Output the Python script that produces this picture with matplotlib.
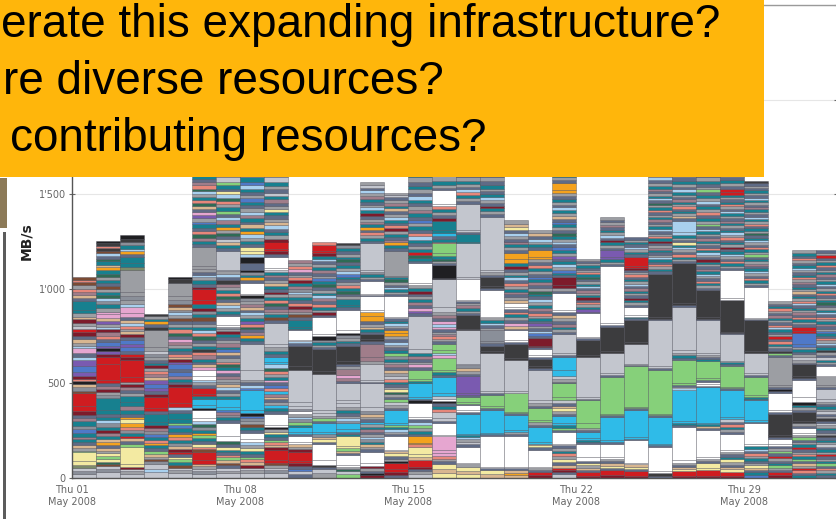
import matplotlib
matplotlib.use("Agg")
import matplotlib.pyplot as plt
from matplotlib.patches import Rectangle
from matplotlib.ticker import FuncFormatter

# transfer links -> colour
link_colors = {
    'lg': '#c3c6ce', 'g': '#9c9ea3', 'sl': '#5f6b86', 'dg': '#3c3c3e', 'k': '#1f1f22',
    'w': '#ffffff', 'r': '#cf1c20', 'dr': '#7d1b2b', 'c': '#2fbbe8', 't': '#17808f',
    'gr': '#86d07a', 'dgr': '#2e6b55', 'y': '#f3eaa2', 'o': '#f4a21e', 'p': '#7a5ab0',
    'pk': '#e6a6d0', 'b': '#4f79c8', 'br': '#7b4b34', 'sa': '#e6877a', 'mv': '#a07d8a',
    'lb': '#a9d0ee', 'tn': '#d8b690', 'ol': '#7c8a6a', 'sg': '#8a8f99',
}

# daily stacks, bottom to top: (link, cumulative MB/s at top of the segment)
may01 = [('lg',22),('sg',38),('lg',55),('ol',68),('y',88),('y',135),('gr',145),('g',160),('tn',172),('sl',190),('t',205),('mv',218),('t',240),('b',258),('sg',275),('t',300),('mv',318),('sl',335),('dr',352),('r',380),('r',448),('br',462),('sg',480),('tn',495),('k',512),('sa',525),('dr',538),('p',560),('b',590),('p',625),('lb',640),('sl',660),('pk',685),('lb',700),('g',715),('tn',735),('sl',752),('dr',770),('r',785),('lg',805),('g',820),('dr',838),('tn',852),('g',870),('t',890),('t',935),('sl',950),('tn',968),('mv',985),('sa',1000),('g',1018),('br',1035),('sa',1048),('br',1063)]
may02 = [('lg',30),('sg',45),('lg',62),('br',72),('dgr',85),('y',100),('gr',118),('y',130),('g',145),('tn',160),('sl',175),('o',190),('tn',205),('t',222),('mv',240),('dr',255),('t',272),('sg',290),('lb',305),('t',325),('sl',340),('t',360),('t',425),('sg',440),('g',455),('dr',470),('mv',485),('sl',500),('r',520),('r',600),('r',640),('dr',655),('p',672),('k',685),('p',700),('b',718),('sl',735),('sa',750),('mv',770),('dr',785),('lb',800),('g',815),('p',832),('tn',848),('pk',868),('pk',880),('g',900),('t',918),('sg',935),('lb',950),('dgr',968),('t',985),('g',1000),('br',1015),('sl',1030),('t',1048),('g',1062),('dgr',1080),('t',1100),('o',1115),('tn',1128),('t',1145),('dgr',1160),('sl',1175),('lb',1188),('br',1200),('dg',1215),('sa',1228),('dg',1240),('k',1254)]
may03 = [('lg',20),('g',35),('lg',50),('dr',60),('y',75),('y',165),('gr',178),('sl',195),('tn',210),('r',222),('t',240),('sg',255),('sa',270),('o',290),('y',310),('o',325),('sl',340),('t',360),('mv',378),('t',400),('t',432),('g',450),('sl',465),('mv',480),('dr',495),('g',510),('r',535),('r',625),('dr',640),('r',655),('sl',670),('b',690),('p',710),('b',730),('sl',745),('dr',760),('tn',775),('g',790),('sa',805),('lb',820),('tn',835),('sl',850),('pk',870),('pk',905),('lb',920),('g',940),('sg',960),('g',985),('g',1100),('ol',1115),('t',1135),('t',1170),('sl',1185),('o',1198),('lb',1212),('t',1230),('sg',1245),('dg',1262),('k',1282)]
may04 = [('lg',30),('lb',50),('lg',75),('sg',88),('br',98),('g',112),('tn',128),('gr',142),('sl',158),('t',172),('o',185),('sa',200),('t',218),('b',235),('sg',250),('mv',265),('dr',280),('t',295),('t',340),('sl',355),('r',370),('r',430),('dr',445),('sl',460),('p',475),('b',495),('p',520),('tn',535),('mv',550),('sa',565),('g',580),('dr',595),('t',610),('sl',625),('g',640),('sg',655),('lg',670),('g',690),('g',780),('dg',800),('sl',815),('o',828),('t',842),('g',855),('dg',868)]
may05 = [('lg',25),('g',40),('lg',55),('br',68),('t',82),('gr',98),('y',110),('sl',125),('r',140),('dr',155),('tn',170),('sg',185),('t',200),('sa',215),('o',230),('sl',245),('t',262),('b',278),('gr',292),('t',310),('t',345),('sl',360),('lb',375),('r',395),('r',480),('dr',495),('sl',510),('t',525),('mv',540),('b',560),('sl',575),('b',600),('p',615),('dr',628),('tn',642),('sa',655),('sl',670),('t',688),('g',705),('mv',720),('pk',735),('sl',752),('dgr',768),('sa',785),('t',800),('g',815),('sl',830),('br',845),('g',860),('lb',875),('sg',890),('tn',905),('br',920),('sg',940),('g',960),('g',1030),('dg',1050),('k',1063)]
may06 = [('lg',20),('sg',35),('lg',50),('g',62),('tn',75),('r',95),('r',140),('br',152),('sa',165),('y',180),('sl',195),('t',210),('gr',225),('o',238),('t',255),('sg',270),('dgr',285),('lb',300),('w',315),('w',360),('k',370),('c',385),('c',420),('t',432),('r',445),('r',475),('sl',490),('g',505),('lb',520),('w',540),('w',570),('pk',585),('tn',600),('sl',615),('t',630),('mv',648),('sa',665),('dg',680),('t',698),('g',715),('sl',730),('dgr',748),('sa',765),('lb',780),('t',798),('g',815),('sl',832),('br',850),('t',868),('sg',885),('dr',900),('t',918),('r',940),('r',1000),('dr',1012),('sl',1028),('t',1045),('g',1060),('lb',1075),('sl',1090),('g',1105),('g',1120),('g',1220),('sl',1235),('t',1252),('mv',1270),('dgr',1288),('sa',1305),('sl',1320),('t',1340),('b',1355),('g',1372),('p',1390),('pk',1405),('sl',1420),('tn',1435),('dgr',1452),('sa',1468),('t',1485),('g',1500),('lb',1515),('dgr',1530),('sa',1548),('mv',1565),('sl',1580),('t',1600),('g',1650),('dg',1700),('sl',1760),('g',1800),('t',1850),('mv',1900)]
may07 = [('lg',25),('g',38),('lg',55),('sl',68),('br',80),('tn',95),('gr',110),('sa',122),('sl',138),('t',150),('y',165),('sl',180),('dgr',195),('w',220),('w',290),('sl',305),('t',320),('sg',335),('mv',350),('b',362),('c',375),('c',420),('t',435),('g',450),('sl',465),('lb',480),('tn',495),('sg',510),('g',525),('mv',540),('sl',555),('pk',570),('t',585),('dgr',600),('sa',615),('g',632),('sl',648),('tn',665),('b',680),('t',695),('mv',712),('g',728),('sl',745),('t',760),('dr',775),('g',790),('sg',800),('w',810),('w',855),('sl',868),('t',882),('g',898),('lb',912),('tn',928),('sl',945),('dgr',960),('sa',978),('t',995),('g',1012),('mv',1028),('dg',1045),('sl',1062),('lb',1078),('g',1092),('lg',1100),('lg',1200),('sl',1215),('t',1230),('tn',1245),('lg',1262),('sl',1278),('dgr',1295),('g',1312),('o',1328),('t',1345),('mv',1362),('lb',1380),('sl',1395),('gr',1412),('t',1430),('g',1448),('sa',1465),('dgr',1482),('lb',1500),('y',1515),('sl',1530),('t',1548),('gr',1565),('lg',1590),('g',1700),('sl',1800),('t',1950)]
may08 = [('lg',25),('g',40),('lg',55),('dr',68),('tn',82),('sa',98),('gr',112),('sl',128),('t',142),('y',158),('g',172),('lb',188),('w',205),('w',240),('sl',255),('t',270),('br',285),('g',300),('sg',315),('b',330),('k',345),('c',360),('c',465),('b',478),('lb',492),('sl',505),('g',520),('lg',570),('lg',710),('sl',725),('t',740),('o',755),('mv',770),('sl',785),('dgr',800),('sa',815),('p',830),('t',845),('g',860),('lb',875),('sl',890),('tn',905),('mv',920),('g',935),('sg',950),('k',965),('w',975),('w',1030),('sl',1045),('o',1060),('t',1075),('sg',1090),('k',1100),('sl',1135),('k',1170),('lb',1185),('y',1200),('y',1220),('sl',1235),('t',1252),('g',1270),('lb',1288),('o',1305),('t',1322),('tn',1340),('sl',1355),('t',1372),('mv',1390),('lb',1408),('g',1425),('sl',1442),('t',1460),('b',1478),('g',1495),('sl',1512),('t',1530),('lb',1548),('b',1565),('t',1590),('g',1700),('sl',1850),('t',1980)]
may09 = [('lg',25),('sg',40),('lg',55),('g',68),('br',80),('r',95),('r',150),('dr',162),('tn',175),('sa',188),('gr',200),('sl',215),('t',230),('y',245),('g',258),('k',270),('w',280),('w',340),('sl',355),('t',370),('c',385),('g',400),('sl',415),('tn',430),('mv',445),('c',460),('sa',475),('b',490),('sl',505),('pk',520),('t',535),('g',550),('sa',565),('dgr',580),('lb',600),('c',615),('c',640),('sl',655),('t',670),('g',690),('lg',710),('lg',820),('sl',835),('br',850),('t',865),('g',880),('mv',895),('sl',910),('dgr',925),('sa',940),('t',955),('g',970),('dr',985),('sl',1000),('t',1015),('tn',1030),('g',1045),('sl',1060),('mv',1075),('t',1090),('lg',1100),('w',1110),('w',1170),('sl',1185),('dr',1200),('r',1210),('r',1250),('dr',1265),('g',1282),('t',1300),('sl',1318),('lb',1335),('tn',1352),('g',1370),('sl',1388),('t',1405),('y',1420),('g',1438),('sl',1455),('mv',1472),('t',1490),('lg',1508),('sl',1525),('g',1545),('t',1565),('lg',1590),('g',1700),('sl',1850),('g',2000)]
may10 = [('sl',20),('lg',35),('b',50),('sl',65),('dr',80),('r',92),('r',140),('dr',152),('g',165),('tn',178),('w',190),('w',220),('sl',232),('c',245),('c',270),('t',282),('gr',295),('sg',310),('lb',325),('g',340),('w',352),('sg',365),('lg',380),('lg',400),('lg',570),('dg',590),('dg',700),('sl',712),('lb',722),('w',730),('w',780),('sl',790),('t',800),('t',835),('sl',850),('br',865),('g',880),('mv',895),('dr',910),('sa',925),('sl',940),('t',955),('g',970),('lb',985),('sg',1000),('mv',1015),('t',1030),('dr',1045),('sa',1060),('g',1075),('sl',1090),('pk',1105),('sa',1120),('g',1135),('mv',1150)]
may11 = [('g',25),('lg',45),('sl',58),('dg',70),('w',95),('w',180),('sl',192),('y',205),('tn',218),('sg',232),('c',245),('c',290),('sl',302),('gr',315),('g',330),('lg',345),('lg',360),('lg',550),('dg',565),('dg',680),('sl',692),('g',705),('t',718),('sg',732),('k',748),('w',760),('w',850),('sl',862),('dr',875),('g',890),('t',905),('sa',920),('sl',935),('mv',950),('lb',965),('t',980),('g',995),('sl',1010),('dgr',1025),('t',1040),('b',1055),('g',1070),('sl',1085),('mv',1100),('t',1115),('g',1130),('sl',1145),('lb',1160),('t',1175),('dr',1190),('r',1200),('r',1230),('sa',1245)]
may12 = [('gr',20),('lg',38),('dgr',50),('g',60),('w',70),('w',120),('sl',132),('tn',145),('gr',158),('y',170),('y',220),('t',232),('sl',245),('c',258),('c',290),('sg',302),('lb',315),('g',330),('sl',345),('t',360),('g',375),('lg',395),('lg',410),('lg',500),('sl',515),('mv',530),('pk',545),('mv',575),('g',590),('sl',605),('dg',620),('dg',700),('sl',712),('t',725),('g',740),('sg',755),('k',768),('w',780),('w',890),('sl',902),('t',915),('t',945),('g',960),('sl',975),('dgr',990),('t',1005),('sa',1020),('g',1035),('sl',1050),('t',1065),('b',1080),('lb',1095),('g',1110),('t',1125),('sl',1140),('dgr',1155),('t',1170),('g',1185),('sl',1200),('t',1215),('sg',1230),('dg',1243)]
may13 = [('dr',15),('k',25),('sl',38),('g',52),('dr',62),('w',80),('w',140),('sl',152),('g',165),('tn',178),('t',190),('sg',205),('lb',218),('g',232),('sl',245),('mv',258),('t',270),('g',285),('c',298),('sl',312),('g',325),('tn',340),('sg',355),('lg',375),('lg',500),('sl',510),('lg',520),('lg',605),('g',620),('mv',640),('mv',710),('sl',722),('dg',735),('dg',760),('sl',772),('t',785),('tn',800),('g',815),('sl',830),('o',855),('o',880),('w',890),('w',960),('sl',968),('w',975),('w',1040),('sl',1052),('g',1065),('t',1078),('sg',1090),('lg',1100),('lg',1240),('sl',1252),('t',1268),('g',1282),('sa',1298),('sl',1312),('o',1325),('t',1340),('mv',1355),('g',1370),('sl',1385),('dr',1400),('t',1415),('lb',1430),('g',1445),('sl',1460),('t',1475),('mv',1490),('g',1505),('lb',1520),('sl',1535),('lg',1550),('g',1562)]
may14 = [('sl',15),('dr',30),('r',45),('r',78),('k',88),('g',100),('sl',115),('y',130),('tn',145),('w',150),('w',220),('sl',232),('g',245),('lb',258),('t',270),('gr',282),('c',290),('c',360),('sl',372),('g',385),('lg',400),('gr',415),('sl',428),('g',442),('dgr',455),('y',468),('g',482),('sl',495),('t',510),('sa',525),('lg',540),('g',555),('tn',570),('sl',585),('mv',600),('g',615),('t',630),('sg',645),('gr',660),('t',675),('sl',690),('g',705),('lb',720),('sl',735),('g',750),('o',765),('o',780),('sl',792),('g',805),('lb',818),('t',832),('sl',845),('w',850),('w',960),('sl',972),('g',985),('t',998),('lb',1010),('sl',1022),('g',1035),('dgr',1050),('t',1062),('g',1070),('g',1200),('sl',1215),('t',1230),('o',1245),('mv',1260),('sl',1275),('t',1290),('g',1305),('dr',1320),('sa',1335),('sl',1350),('t',1365),('lb',1380),('g',1395),('sl',1410),('tn',1425),('t',1440),('mv',1455),('g',1470),('sl',1485),('lg',1495),('g',1507)]
may15 = [('lg',20),('g',35),('sl',50),('dr',60),('r',95),('tn',110),('y',125),('y',165),('sa',178),('o',185),('o',220),('sl',235),('t',250),('g',265),('gr',280),('lb',295),('sl',310),('w',325),('w',395),('k',410),('sl',420),('c',430),('c',500),('t',512),('gr',525),('gr',570),('sl',585),('pk',600),('g',615),('sl',630),('mv',645),('t',660),('lg',680),('lg',855),('sl',870),('p',885),('pk',900),('sl',915),('mv',930),('t',945),('g',960),('sl',975),('dr',990),('t',1005),('g',1020),('w',1030),('w',1135),('sl',1148),('t',1162),('dgr',1178),('r',1192),('t',1208),('g',1225),('sl',1242),('t',1260),('lb',1278),('sa',1295),('sl',1312),('t',1330),('g',1348),('b',1365),('sl',1382),('t',1400),('mv',1418),('g',1435),('sl',1452),('t',1470),('lb',1488),('sl',1505),('g',1525),('t',1545),('sl',1565),('g',1590),('t',1750),('sl',1900)]
may16 = [('y',25),('tn',45),('y',75),('sl',88),('g',100),('sa',115),('pk',130),('pk',150),('pk',220),('w',225),('w',290),('sl',302),('lg',315),('lg',350),('sa',365),('t',380),('sl',395),('k',408),('w',418),('lg',432),('c',450),('c',535),('sl',545),('t',558),('gr',570),('gr',635),('pk',650),('lb',660),('gr',675),('gr',710),('sl',722),('g',735),('sa',748),('mv',760),('g',772),('sl',785),('pk',800),('lb',815),('pk',830),('sl',845),('mv',860),('g',875),('lg',905),('lg',1050),('k',1055),('k',1125),('sl',1135),('g',1148),('dgr',1160),('t',1172),('gr',1190),('gr',1240),('sa',1250),('t',1265),('sl',1280),('c',1295),('t',1310),('t',1360),('dr',1375),('sl',1390),('g',1405),('t',1420),('sa',1435),('w',1450),('w',1520),('sl',1535),('g',1550),('t',1570),('g',1700),('sl',2000)]
may17 = [('y',20),('tn',35),('y',60),('g',72),('w',80),('w',165),('sl',178),('lg',192),('g',205),('lb',215),('t',225),('c',235),('c',340),('sl',350),('w',360),('w',385),('sl',392),('gr',400),('gr',430),('sl',440),('p',450),('p',540),('sl',552),('g',565),('tn',580),('sg',595),('lg',605),('lg',780),('dg',790),('dg',860),('sl',872),('g',885),('t',898),('mv',912),('g',925),('sl',935),('w',940),('w',1050),('lg',1060),('lg',1240),('t',1250),('t',1290),('sl',1300),('lg',1310),('lg',1450),('sl',1465),('g',1480),('t',1495),('sa',1510),('lb',1525),('sl',1540),('g',1555),('t',1570),('g',1590),('sl',1700),('g',2050)]
may18 = [('tn',20),('y',40),('sl',52),('w',60),('w',220),('sl',230),('c',240),('c',360),('sl',370),('gr',380),('gr',440),('sl',450),('lg',460),('lg',660),('dg',670),('dg',700),('sl',712),('sg',725),('sg',780),('g',795),('sl',808),('lb',820),('t',835),('g',845),('w',850),('w',995),('sl',1005),('dg',1015),('dg',1060),('sl',1075),('g',1090),('lg',1100),('lg',1380),('sl',1395),('g',1410),('t',1425),('dr',1440),('sl',1455),('g',1470),('lb',1485),('t',1500),('sl',1515),('g',1530),('t',1550),('sl',1570),('g',1590),('sl',1750),('g',1900)]
may19 = [('tn',15),('o',28),('tn',40),('sl',52),('w',60),('w',220),('sl',232),('g',245),('c',255),('c',335),('sl',342),('gr',350),('gr',450),('lg',460),('lg',625),('dg',635),('dg',710),('sl',720),('w',730),('w',780),('sl',790),('tn',805),('pk',820),('sl',835),('g',850),('t',865),('sa',880),('sl',895),('w',905),('w',925),('tn',940),('g',955),('sl',970),('mv',985),('t',1000),('g',1015),('sa',1030),('sl',1045),('lb',1060),('t',1075),('g',1090),('sl',1105),('dr',1120),('t',1135),('o',1155),('o',1190),('sl',1205),('g',1220),('t',1235),('mv',1250),('sl',1265),('g',1280),('lb',1295),('sl',1310),('y',1325),('tn',1340),('g',1361)]
may20 = [('dr',15),('r',30),('sl',42),('g',55),('w',60),('w',150),('sl',162),('y',172),('tn',180),('c',190),('c',270),('sl',282),('g',295),('gr',305),('gr',370),('sl',380),('g',395),('lg',410),('lg',570),('sl',580),('dg',590),('dg',630),('sl',640),('w',650),('w',680),('sl',690),('dr',700),('dr',740),('sl',752),('b',765),('lb',778),('sl',792),('g',805),('p',818),('sl',832),('t',845),('g',858),('sa',872),('sl',885),('mv',900),('t',915),('g',930),('lb',945),('sl',960),('t',975),('dgr',990),('g',1005),('sl',1020),('mv',1035),('t',1050),('b',1065),('sl',1080),('g',1095),('t',1110),('sa',1125),('sl',1140),('g',1155),('o',1170),('o',1205),('sl',1220),('t',1235),('g',1250),('lb',1265),('sl',1280),('tn',1295),('g',1312)]
may21 = [('lg',20),('sl',30),('dr',40),('r',55),('tn',70),('sl',85),('y',100),('g',115),('sa',130),('t',145),('g',160),('sl',172),('w',180),('w',245),('sl',255),('gr',265),('t',278),('c',290),('c',330),('sl',340),('g',355),('y',368),('tn',380),('sl',395),('lg',410),('gr',430),('gr',500),('sl',510),('g',525),('lg',540),('c',570),('c',640),('sl',650),('lg',660),('lg',760),('sl',772),('g',785),('t',800),('mv',815),('sl',830),('g',845),('tn',860),('sl',875),('w',890),('w',980),('sl',990),('g',1005),('dr',1020),('dr',1060),('sl',1072),('t',1085),('b',1100),('g',1115),('lb',1130),('t',1145),('sl',1160),('p',1175),('g',1190),('t',1205),('b',1220),('sl',1235),('lb',1250),('g',1265),('t',1280),('dgr',1295),('sl',1310),('g',1325),('t',1340),('b',1355),('sl',1370),('tn',1385),('g',1400),('t',1415),('lb',1430),('sl',1445),('g',1460),('t',1475),('sl',1490),('g',1505),('o',1520),('o',1560),('sl',1575),('g',1590),('t',1750),('sl',1950)]
may22 = [('dr',12),('r',30),('sl',42),('tn',55),('g',68),('y',80),('sl',92),('w',110),('w',180),('sl',190),('t',200),('c',210),('c',245),('sl',255),('g',265),('gr',290),('gr',410),('sl',420),('lg',430),('lg',640),('dg',650),('dg',730),('sl',738),('w',745),('w',870),('sl',880),('p',892),('t',905),('g',918),('sa',930),('sl',942),('dr',955),('t',968),('g',980),('mv',992),('sl',1004),('lb',1016),('t',1028),('g',1040),('sl',1052),('dgr',1064),('t',1076),('sa',1088),('g',1100),('sl',1112),('t',1124),('g',1136),('sl',1146),('g',1156)]
may23 = [('dr',15),('r',40),('sl',52),('y',65),('tn',78),('sl',90),('g',100),('w',110),('w',180),('sl',190),('c',200),('c',325),('sl',332),('gr',340),('gr',535),('sl',545),('lg',555),('lg',660),('dg',670),('dg',800),('sl',810),('w',820),('w',1120),('sl',1130),('g',1142),('t',1155),('p',1168),('p',1205),('sl',1218),('g',1232),('t',1245),('dr',1258),('sl',1270),('lb',1285),('g',1298),('t',1312),('sl',1325),('mv',1338),('g',1352),('sl',1365),('g',1379)]
may24 = [('dr',12),('r',35),('sl',48),('y',60),('tn',72),('w',80),('w',200),('sl',208),('c',215),('c',360),('sl',368),('gr',375),('gr',590),('sl',598),('lg',605),('lg',710),('dg',720),('dg',835),('sl',845),('t',852),('w',860),('w',905),('sl',915),('g',928),('t',940),('dr',952),('sl',965),('g',978),('t',990),('mv',1002),('sl',1015),('lb',1028),('g',1040),('t',1052),('sl',1065),('sa',1078),('g',1090),('sl',1102),('dr',1112),('r',1120),('r',1170),('sl',1182),('t',1195),('g',1208),('lb',1220),('sl',1235),('t',1248),('g',1260),('sl',1272)]
may25 = [('sl',12),('dg',25),('w',35),('w',165),('sl',172),('c',180),('c',325),('sl',332),('gr',340),('gr',570),('sl',580),('lg',590),('lg',835),('sl',842),('dg',850),('dg',1080),('sl',1092),('t',1105),('g',1118),('sa',1130),('sl',1142),('t',1155),('lb',1168),('g',1180),('sl',1192),('t',1205),('mv',1218),('g',1230),('sl',1242),('dr',1255),('t',1268),('sa',1280),('g',1292),('sl',1305),('lb',1318),('t',1330),('g',1342),('sl',1355),('mv',1368),('t',1380),('g',1392),('sl',1405),('sa',1418),('t',1430),('g',1442),('dgr',1455),('sl',1468),('lb',1480),('t',1492),('g',1505),('sl',1518),('mv',1530),('t',1545),('g',1560),('sl',1575),('lb',1590),('g',1800),('sl',2000)]
may26 = [('dr',12),('r',35),('y',48),('tn',58),('sl',68),('g',80),('w',95),('w',270),('sl',280),('t',290),('c',300),('c',465),('lb',475),('w',482),('sl',490),('gr',500),('gr',625),('sl',635),('t',650),('g',662),('lg',675),('lg',905),('sl',915),('dg',925),('dg',1135),('sl',1145),('g',1158),('t',1170),('sa',1182),('sl',1195),('g',1208),('lb',1220),('t',1232),('y',1245),('sl',1258),('g',1270),('t',1282),('lb',1300),('lb',1360),('sl',1372),('tn',1385),('g',1398),('t',1410),('sl',1422),('sa',1435),('g',1448),('t',1460),('mv',1472),('sl',1485),('g',1498),('t',1512),('lb',1525),('sl',1540),('g',1555),('t',1570),('sl',1590),('g',1750),('sl',1950)]
may27 = [('dr',12),('r',40),('y',55),('y',80),('sl',92),('g',102),('w',110),('w',255),('sl',265),('tn',275),('t',283),('c',290),('c',480),('sl',488),('w',495),('w',510),('sl',518),('gr',530),('gr',620),('t',630),('sl',642),('g',652),('lg',660),('lg',835),('sl',842),('dg',850),('dg',995),('sl',1005),('g',1018),('t',1030),('sa',1042),('sl',1055),('g',1068),('lb',1080),('t',1092),('mv',1105),('sl',1118),('g',1130),('t',1142),('dr',1155),('sl',1168),('g',1180),('lb',1192),('t',1205),('sa',1218),('sl',1230),('g',1242),('t',1255),('mv',1268),('sl',1280),('g',1292),('t',1305),('lb',1318),('sl',1330),('gr',1345),('g',1360),('t',1375),('sl',1390),('sa',1405),('g',1420),('t',1435),('sl',1450),('lb',1465),('g',1480),('t',1495),('sl',1510),('gr',1525),('g',1540),('sl',1555),('t',1570),('g',1590),('sl',1750),('g',1900)]
may28 = [('dr',12),('r',30),('y',45),('tn',58),('sl',70),('g',85),('y',100),('t',112),('sl',125),('g',140),('w',150),('w',235),('sl',245),('g',258),('t',270),('sa',283),('sl',295),('lg',310),('c',325),('c',465),('sl',475),('gr',480),('gr',590),('sl',600),('t',612),('lg',620),('lg',760),('sl',765),('dg',770),('dg',940),('w',950),('w',1100),('sl',1110),('g',1122),('t',1135),('sa',1148),('sl',1160),('g',1172),('lb',1185),('t',1198),('sl',1210),('dr',1222),('g',1235),('t',1248),('sl',1260),('sa',1272),('g',1285),('lb',1298),('t',1310),('sl',1322),('g',1335),('t',1348),('mv',1360),('sl',1372),('g',1385),('t',1398),('lb',1410),('sl',1422),('g',1435),('sa',1448),('t',1460),('sl',1472),('g',1485),('t',1498),('r',1510),('r',1530),('sl',1545),('g',1560),('t',1575),('sl',1590),('g',1750),('sl',1880)]
may29 = [('b',15),('t',30),('sl',42),('tn',55),('y',68),('g',80),('sl',92),('t',105),('g',118),('sa',130),('sl',142),('lb',155),('t',168),('w',180),('w',290),('sl',298),('c',305),('c',410),('sl',420),('t',430),('gr',440),('gr',535),('sl',545),('lg',555),('lg',660),('dg',670),('dg',835),('sl',840),('w',845),('w',1010),('sl',1020),('g',1032),('t',1045),('sa',1058),('sl',1070),('g',1082),('lb',1095),('t',1108),('sl',1120),('mv',1132),('g',1145),('t',1158),('sl',1170),('gr',1182),('g',1195),('t',1208),('sa',1220),('sl',1232),('g',1245),('lb',1258),('t',1270),('sl',1282),('dgr',1295),('g',1308),('t',1320),('sl',1332),('sa',1345),('g',1358),('t',1370),('lb',1382),('sl',1395),('g',1408),('t',1420),('mv',1432),('sl',1445),('g',1458),('t',1470),('lb',1482),('sl',1495),('g',1508),('t',1520),('sl',1532),('g',1545),('sl',1558),('dg',1571)]
may30 = [('dr',15),('r',30),('sl',42),('g',55),('gr',68),('t',80),('sl',92),('g',105),('r',118),('sl',130),('gr',145),('g',158),('sl',170),('w',180),('w',205),('sl',215),('dg',225),('dg',340),('sl',350),('w',360),('w',450),('sl',458),('k',470),('sl',480),('g',490),('g',640),('sl',650),('gr',660),('dg',672),('sl',685),('g',698),('t',710),('sa',722),('sl',735),('r',748),('g',760),('sl',772),('t',785),('lb',798),('sa',810),('sl',822),('g',835),('t',848),('mv',860),('sl',872),('g',885),('sa',898),('t',910),('sl',922),('g',938)]
may31 = [('t',15),('sl',28),('sa',40),('r',52),('g',65),('tn',78),('sl',90),('gr',102),('t',115),('sa',128),('g',140),('sl',152),('r',165),('t',178),('g',190),('sl',202),('gr',215),('g',228),('w',240),('w',265),('sl',275),('g',290),('dg',300),('dg',350),('sl',360),('g',375),('t',388),('k',400),('w',430),('w',520),('sl',530),('dg',540),('dg',600),('sl',610),('g',625),('lg',640),('g',655),('sl',668),('t',680),('g',695),('b',710),('b',765),('r',775),('r',800),('sl',812),('g',825),('t',838),('sa',850),('sl',862),('mv',875),('g',888),('t',900),('sl',912),('lb',925),('sa',938),('g',950),('t',962),('sl',975),('tn',988),('g',1000),('t',1012),('sl',1025),('mv',1038),('g',1050),('sa',1062),('t',1075),('sl',1088),('g',1100),('lb',1112),('t',1125),('sl',1138),('g',1150),('sa',1162),('sl',1175),('t',1188),('g',1206)]
jun01 = [('sl',15),('t',28),('g',40),('sa',52),('sl',65),('gr',78),('t',90),('g',102),('sl',115),('r',128),('g',140),('t',152),('sl',165),('lg',178),('g',190),('t',202),('sl',215),('dg',228),('g',240),('sl',252),('t',265),('g',278),('lg',290),('sl',302),('dg',315),('g',328),('sl',340),('lg',352),('g',365),('t',378),('sl',390),('g',402),('lg',415),('lg',470),('sl',480),('g',490),('g',535),('w',540),('w',590),('sl',600),('g',612),('t',625),('lg',640),('sl',652),('g',665),('dg',678),('t',690),('sl',702),('lb',715),('g',728),('sa',740),('sl',752),('t',765),('b',778),('g',790),('sl',802),('mv',815),('t',828),('g',840),('sa',852),('sl',865),('lb',878),('t',890),('g',902),('sl',915),('dgr',928),('t',940),('g',952),('sl',965),('sa',978),('t',990),('g',1002),('sl',1015),('lb',1028),('t',1040),('g',1052),('sl',1065),('mv',1078),('t',1090),('g',1102),('sl',1115),('sa',1128),('t',1140),('g',1152),('sl',1165),('r',1178),('g',1190),('sl',1206)]

days = [may01, may02, may03, may04, may05, may06, may07, may08, may09, may10,
        may11, may12, may13, may14, may15, may16, may17, may18, may19, may20,
        may21, may22, may23, may24, may25, may26, may27, may28, may29, may30,
        may31, jun01]

tick_days = [0, 7, 14, 21, 28]
tick_labels = ['Thu 01\nMay 2008', 'Thu 08\nMay 2008', 'Thu 15\nMay 2008',
               'Thu 22\nMay 2008', 'Thu 29\nMay 2008']
y_ticks = [0, 500, 1000, 1500, 2000, 2500]

questions = ['erate this expanding infrastructure?',
             're diverse resources?',
             'contributing resources?']

W, H = 837, 519
fig = plt.figure(figsize=(W / 100, H / 100), dpi=100)
ax = fig.add_axes([72 / W, 41 / H, 1 - 72 / W, 473 / H])

xs, bottoms, heights, colors = [], [], [], []
for i, stack in enumerate(days):
    prev = 0
    for link, level in stack:
        xs.append(i)
        bottoms.append(prev)
        heights.append(level - prev)
        colors.append(link_colors[link])
        prev = level

ax.bar(xs, heights, bottom=bottoms, width=1.0, align='edge', color=colors,
       edgecolor=(0.2, 0.2, 0.25, 0.45), linewidth=0.5, zorder=2)

ax.set_xlim(0, 31.88)
ax.set_ylim(0, 2500)
ax.set_yticks(y_ticks)


def thousands(v, pos):
    # labels above 1'500 sit under the question box, leave them blank
    if v > 1500:
        return ''
    return f"{v:,.0f}".replace(',', "'")


ax.yaxis.set_major_formatter(FuncFormatter(thousands))
ax.set_xticks(tick_days)
ax.set_xticklabels(tick_labels)
ax.grid(axis='y', color='#e6e6e6', linewidth=0.8, zorder=0)
ax.set_axisbelow(True)
ax.tick_params(axis='y', direction='inout', length=5, right=True, labelsize=7,
               labelcolor='#666666', color='#666666', pad=2)
ax.tick_params(axis='x', length=0, labelsize=7, labelcolor='#666666', pad=5)
for s in ax.spines.values():
    s.set_color('#9a9a9a')
    s.set_linewidth(1.0)
ax.spines['left'].set_color('#555555')
ax.spines['bottom'].set_color('#555555')
ax.set_ylabel('MB/s', fontsize=10, fontweight='bold', color='#222222', labelpad=4)

# slide background bits at the far left
fig.patches.append(Rectangle((0, (H - 228) / H), 7 / W, 50 / H, transform=fig.transFigure,
                             facecolor='#8c7a58', edgecolor='none', zorder=5))
fig.patches.append(Rectangle((3 / W, 0), 3 / W, (H - 232) / H, transform=fig.transFigure,
                             facecolor='#5c5c5c', edgecolor='none', zorder=5))

# question box overlay
fig.patches.append(Rectangle((0, (H - 177) / H), 764 / W, 177 / H + 0.01,
                             transform=fig.transFigure, facecolor='#ffb60b',
                             edgecolor='none', zorder=10))
for j, (q, x0) in enumerate(zip(questions, [1, 3, 10])):
    fig.text(x0 / W, (H - 37 - 57 * j) / H, q, fontsize=33,
             family=['Liberation Sans', 'DejaVu Sans'], color='black',
             va='baseline', ha='left', zorder=11)

fig.savefig('out.png', dpi=100)
